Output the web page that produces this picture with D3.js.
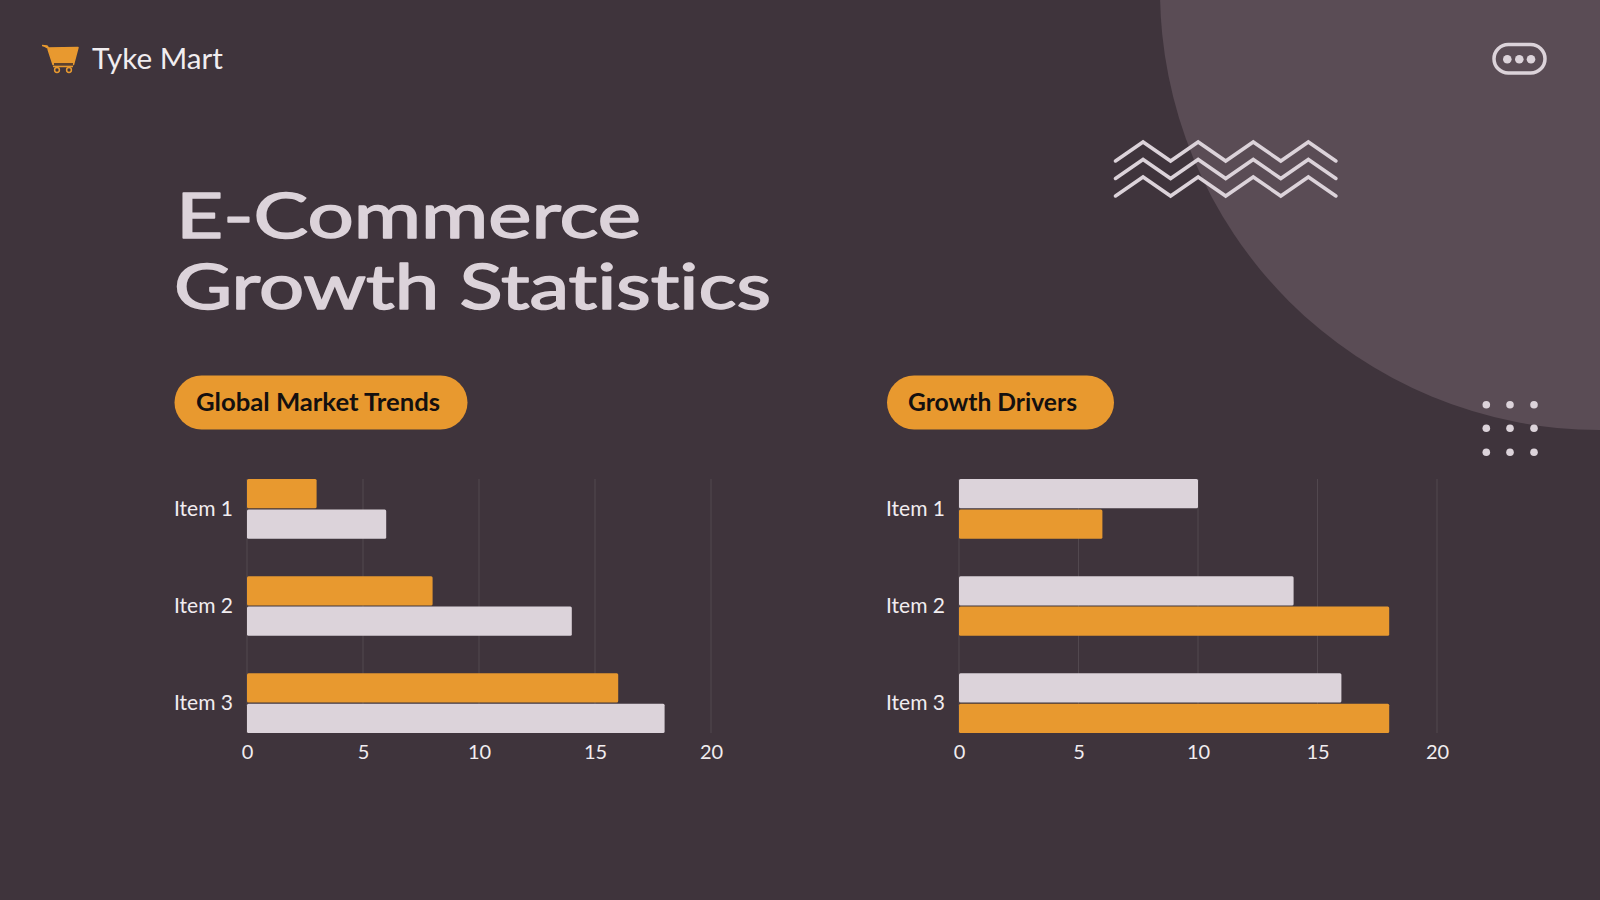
<!DOCTYPE html>
<html>
<head>
<meta charset="utf-8">
<title>E-Commerce Growth Statistics</title>
<script src="https://cdn.jsdelivr.net/npm/d3@7"></script>
<style>
  html, body { margin: 0; padding: 0; background: #3f343c; }
  svg { display: block; }
  text { font-family: Lato, "Noto Sans", sans-serif; font-variant-ligatures: none; }
  .tick text { font-size: 20px; fill: #f1edf0; }
  .ylabels .tick text { font-size: 21px; }
</style>
</head>
<body>
<svg width="1600" height="900"></svg>
<script>
const categories = ["Item 1", "Item 2", "Item 3"];
const xTicks = [0, 5, 10, 15, 20];

const marketOrange = [3, 8, 16];
const marketLight = [6, 14, 18];
const driversLight = [10, 14, 16];
const driversOrange = [6, 18, 18];

const ORANGE = "#e8992f";
const LIGHT = "#dcd3da";
const BG = "#3f343c";

const svg = d3.select("svg");

svg.append("rect").attr("width", 1600).attr("height", 900).attr("fill", BG);
svg.append("circle").attr("cx", 1600).attr("cy", -10).attr("r", 440).attr("fill", "#5a4c55");

// ─── Logo ───────────────────────────────────
const logo = svg.append("g");
logo.append("path")
    .attr("d", "M42 45.5 L47 46 L48.5 48 L78 47.5 L73.5 64.5 L53 64.5 L48 49")
    .attr("fill", ORANGE).attr("stroke", ORANGE).attr("stroke-width", 1.5).attr("stroke-linejoin", "round");
logo.append("rect").attr("x", 54).attr("y", 63).attr("width", 19).attr("height", 2.5).attr("fill", "#5b4230");
logo.append("path").attr("d", "M53 66.5 H73").attr("stroke", ORANGE).attr("stroke-width", 1.5);
[57, 69].forEach(cx => {
    logo.append("circle").attr("cx", cx).attr("cy", 70).attr("r", 2.4)
        .attr("fill", "none").attr("stroke", ORANGE).attr("stroke-width", 1.5);
});
svg.append("text").attr("x", 92).attr("y", 68.5)
    .attr("font-size", 29).attr("fill", "#f1edf0")
    .attr("textLength", 131).attr("lengthAdjust", "spacingAndGlyphs")
    .text("Tyke Mart");

// ─── Title ──────────────────────────────────
[["E-Commerce", 176, 238, 465], ["Growth Statistics", 174, 309, 597]].forEach(([t, x, y, len]) => {
    svg.append("text").attr("x", x).attr("y", y)
        .attr("font-size", 62).attr("fill", LIGHT)
        .attr("stroke", LIGHT).attr("stroke-width", 1.5).attr("stroke-linejoin", "round")
        .attr("textLength", len).attr("lengthAdjust", "spacingAndGlyphs")
        .text(t);
});

// ─── Decorations ────────────────────────────
const zigX = d3.range(9).map(i => 1115.5 + i * 27.55);
[0, 17.5, 35].forEach(dy => {
    const line = d3.line().x(d => d).y((d, i) => (i % 2 ? 142 : 161) + dy);
    svg.append("path").attr("d", line(zigX))
        .attr("fill", "none").attr("stroke", LIGHT).attr("stroke-width", 3.5).attr("stroke-linecap", "round");
});

svg.append("rect").attr("x", 1494).attr("y", 44.5).attr("width", 51).attr("height", 28.5).attr("rx", 14.25)
    .attr("fill", "none").attr("stroke", LIGHT).attr("stroke-width", 3.5);
[1507.3, 1519.3, 1531].forEach(cx => {
    svg.append("circle").attr("cx", cx).attr("cy", 59.3).attr("r", 4.3).attr("fill", LIGHT);
});

[404.7, 428.3, 452.3].forEach(cy => {
    [1486.3, 1510, 1534].forEach(cx => {
        svg.append("circle").attr("cx", cx).attr("cy", cy).attr("r", 3.8).attr("fill", LIGHT);
    });
});

// ─── Charts ─────────────────────────────────
function drawChart(opts) {
    const { x0, x20, pillX, pillW, textX, textW, label, series, colors } = opts;

    svg.append("rect").attr("x", pillX).attr("y", 375.5).attr("width", pillW).attr("height", 54).attr("rx", 27)
        .attr("fill", ORANGE);
    svg.append("text").attr("x", textX).attr("y", 411)
        .attr("font-size", 24).attr("font-weight", 700).attr("fill", "#14100f")
        .attr("textLength", textW).attr("lengthAdjust", "spacingAndGlyphs")
        .text(label);

    const x = d3.scaleLinear().domain([0, 20]).range([x0, x20]);
    const y = d3.scaleBand().domain(categories).range([479, 733]).paddingInner(0.385).paddingOuter(0);
    const inner = d3.scaleBand().domain([0, 1]).range([0, y.bandwidth()]).paddingInner(0.04);

    const g = svg.append("g");

    g.selectAll(".grid").data(xTicks).enter().append("line")
        .attr("class", "grid")
        .attr("x1", d => x(d)).attr("x2", d => x(d))
        .attr("y1", 479).attr("y2", 733)
        .attr("stroke", "#ffffff").attr("stroke-opacity", 0.1);

    series.forEach((vals, s) => {
        g.selectAll(".bar" + s).data(vals).enter().append("rect")
            .attr("class", "bar" + s)
            .attr("x", x(0))
            .attr("y", (d, i) => y(categories[i]) + inner(s))
            .attr("width", d => x(d) - x(0))
            .attr("height", inner.bandwidth())
            .attr("rx", 1.5)
            .attr("fill", colors[s]);
    });

    g.append("g").attr("transform", "translate(0,733)")
        .call(d3.axisBottom(x).tickValues(xTicks).tickSize(0).tickPadding(11.5))
        .call(a => a.select(".domain").remove());

    g.append("g").attr("class", "ylabels").attr("transform", `translate(${x0},0)`)
        .call(d3.axisLeft(y).tickSize(0).tickPadding(14))
        .call(a => a.select(".domain").remove());
}

drawChart({
    x0: 247, x20: 711, pillX: 174.5, pillW: 293, textX: 196, textW: 244,
    label: "Global Market Trends",
    series: [marketOrange, marketLight], colors: [ORANGE, LIGHT]
});

drawChart({
    x0: 959, x20: 1437, pillX: 887, pillW: 227, textX: 908, textW: 169,
    label: "Growth Drivers",
    series: [driversLight, driversOrange], colors: [LIGHT, ORANGE]
});
</script>
</body>
</html>
